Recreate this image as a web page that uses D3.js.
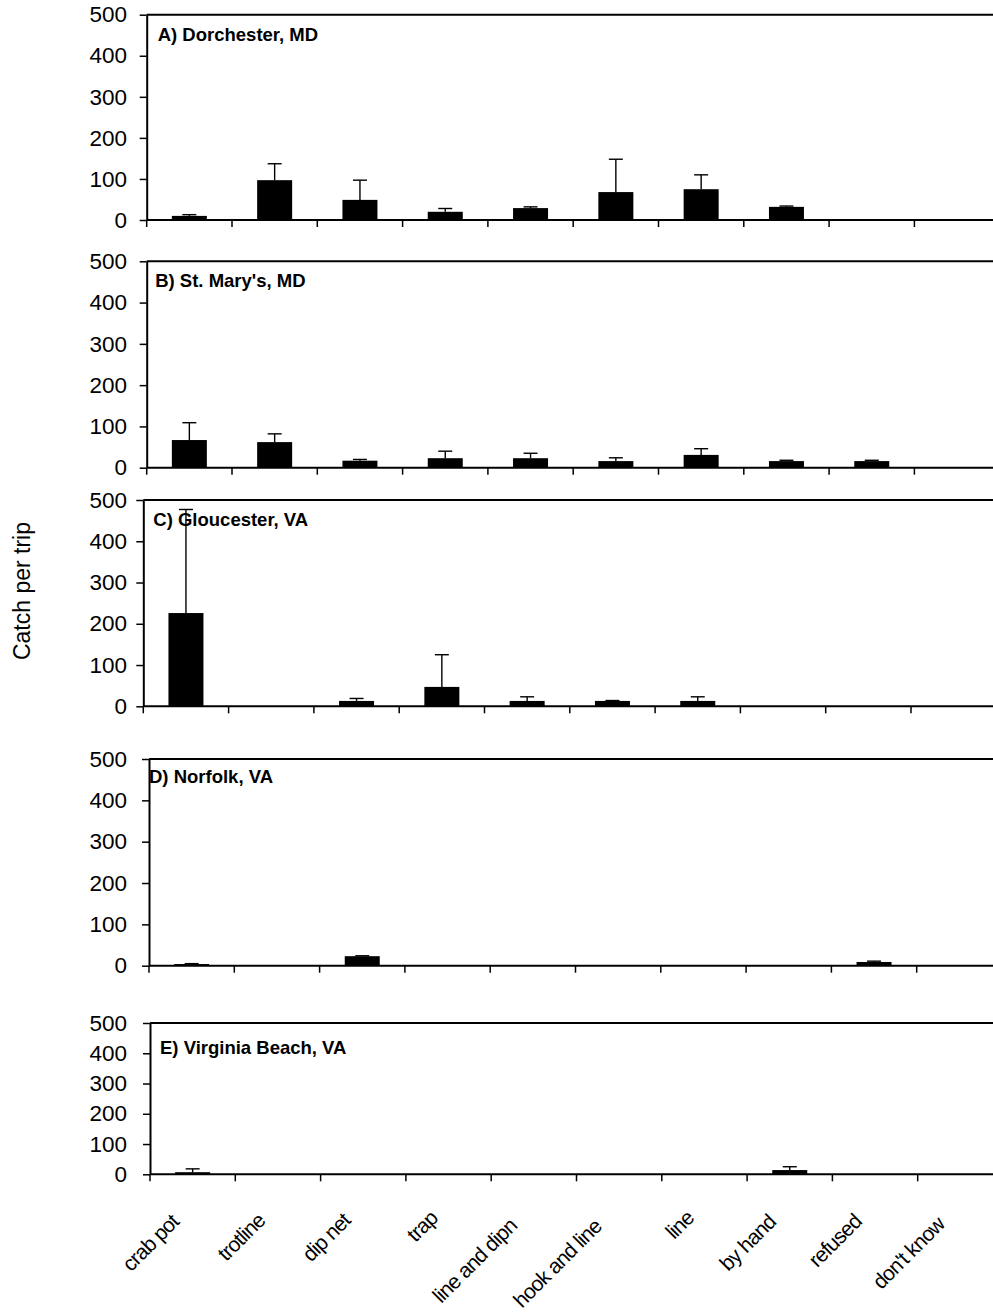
<!DOCTYPE html>
<html>
<head>
    <meta charset="UTF-8">
    <title>Catch per trip by gear</title>
    <script src="https://d3js.org/d3.v7.min.js"></script>
    <style>
        body {
            margin: 0;
            background: #fff;
            font-family: "Liberation Sans", Arial, sans-serif;
        }
        .tick text {
            font-family: "Liberation Sans", Arial, sans-serif;
        }
    </style>
</head>
<body>
    <svg id="chart"></svg>
    <script>
        // gear categories (x axis)
        const categories = ["crab pot", "trotline", "dip net", "trap", "line and dipn",
            "hook and line", "line", "by hand", "refused", "don't know"];

        const panelTitles = ["A) Dorchester, MD", "B) St. Mary's, MD", "C) Gloucester, VA",
            "D) Norfolk, VA", "E) Virginia Beach, VA"];

        const yTicks = [0, 100, 200, 300, 400, 500];

        // mean catch per trip and error (upper bar length)
        const dorchesterMean = [10, 97, 49, 20, 29, 68, 75, 32, 0, 0];
        const dorchesterErr  = [3, 40, 48, 8, 3, 80, 35, 2, 0, 0];

        const stMarysMean = [67, 62, 17, 23, 23, 16, 31, 16, 16, 0];
        const stMarysErr  = [42, 20, 3, 17, 12, 8, 15, 2, 2, 0];

        const gloucesterMean = [226, 0, 13, 47, 13, 13, 13, 0, 0, 0];
        const gloucesterErr  = [251, 0, 6, 78, 10, 1, 10, 0, 0, 0];

        const norfolkMean = [4, 0, 23, 0, 0, 0, 0, 0, 9, 0];
        const norfolkErr  = [1, 0, 1, 0, 0, 0, 0, 0, 2, 0];

        const vaBeachMean = [7, 0, 0, 0, 0, 0, 0, 14, 0, 0];
        const vaBeachErr  = [11, 0, 0, 0, 0, 0, 0, 11, 0, 0];

        const means = [dorchesterMean, stMarysMean, gloucesterMean, norfolkMean, vaBeachMean];
        const errs = [dorchesterErr, stMarysErr, gloucesterErr, norfolkErr, vaBeachErr];

        // panel placement on the page
        const layout = [
            { top: 14.7, bottom: 220, left: 146.7, tx: 11, ty: 26 },
            { top: 261.3, bottom: 467.7, left: 146.7, tx: 8.5, ty: 25.5 },
            { top: 500, bottom: 706.3, left: 143.3, tx: 10, ty: 26 },
            { top: 759, bottom: 965.7, left: 149, tx: 0, ty: 23.5 },
            { top: 1023, bottom: 1174.3, left: 150, tx: 10, ty: 31 }
        ];

        const width = 993;
        const height = 1314;
        const plotWidth = 853;
        const barWidth = 35;
        const capWidth = 14;
        const labelRight = 127;

        const svg = d3.select("#chart")
            .attr("width", width)
            .attr("height", height);

        layout.forEach((p, i) => {
            const g = svg.append("g");

            const x = d3.scaleBand()
                .domain(categories)
                .range([p.left, p.left + plotWidth]);

            const y = d3.scaleLinear()
                .domain([0, 500])
                .range([p.bottom, p.top]);

            const rows = categories.map((c, j) => ({ cat: c, v: means[i][j], e: errs[i][j] }));

            // bars
            g.selectAll("rect.bar")
                .data(rows.filter(d => d.v > 0))
                .join("rect")
                .attr("class", "bar")
                .attr("x", d => x(d.cat) + x.bandwidth() / 2 - barWidth / 2)
                .attr("y", d => y(d.v))
                .attr("width", barWidth)
                .attr("height", d => y(0) - y(d.v))
                .attr("fill", "#000");

            // error bars (upper only)
            const eb = g.selectAll("g.err")
                .data(rows.filter(d => d.v > 0 && d.e > 0))
                .join("g")
                .attr("class", "err");
            eb.append("line")
                .attr("x1", d => x(d.cat) + x.bandwidth() / 2)
                .attr("x2", d => x(d.cat) + x.bandwidth() / 2)
                .attr("y1", d => y(d.v))
                .attr("y2", d => y(d.v + d.e))
                .attr("stroke", "#000")
                .attr("stroke-width", 1.4);
            eb.append("line")
                .attr("x1", d => x(d.cat) + x.bandwidth() / 2 - capWidth / 2)
                .attr("x2", d => x(d.cat) + x.bandwidth() / 2 + capWidth / 2)
                .attr("y1", d => y(d.v + d.e))
                .attr("y2", d => y(d.v + d.e))
                .attr("stroke", "#000")
                .attr("stroke-width", 1.4);

            // top frame line
            g.append("line")
                .attr("x1", p.left).attr("x2", p.left + plotWidth)
                .attr("y1", p.top).attr("y2", p.top)
                .attr("stroke", "#000").attr("stroke-width", 2);

            // bottom axis with ticks between categories
            g.append("line")
                .attr("x1", p.left).attr("x2", p.left + plotWidth)
                .attr("y1", p.bottom).attr("y2", p.bottom)
                .attr("stroke", "#000").attr("stroke-width", 2);
            g.selectAll("line.xtick")
                .data(categories)
                .join("line")
                .attr("class", "xtick")
                .attr("x1", d => x(d)).attr("x2", d => x(d))
                .attr("y1", p.bottom).attr("y2", p.bottom + 7)
                .attr("stroke", "#000").attr("stroke-width", 1.5);

            // left axis
            const yAxis = g.append("g")
                .attr("transform", `translate(${p.left},0)`)
                .call(d3.axisLeft(y)
                    .tickValues(yTicks)
                    .tickSize(7)
                    .tickSizeOuter(0)
                    .tickPadding(p.left - labelRight - 7));
            yAxis.select(".domain").attr("stroke-width", 2);
            yAxis.selectAll(".tick line").attr("stroke-width", 1.5);
            yAxis.selectAll(".tick text")
                .attr("font-size", 22.5)
                .attr("fill", "#000");

            // panel title
            g.append("text")
                .attr("x", p.left + p.tx)
                .attr("y", p.top + p.ty)
                .attr("font-size", 18.5)
                .attr("font-weight", "bold")
                .text(panelTitles[i]);

            // category labels under the last panel
            if (i === layout.length - 1) {
                const labels = g.selectAll("text.xlab")
                    .data(categories)
                    .join("text")
                    .attr("class", "xlab")
                    .attr("text-anchor", "end")
                    .attr("font-size", 21)
                    .attr("letter-spacing", -0.8)
                    .text(d => d);
                // longer labels sit a little further down-left, as in the original
                labels.attr("transform", function (d) {
                    const len = this.getComputedTextLength();
                    const cx = x(d) + x.bandwidth() / 2 - 7 - 0.08 * len;
                    const cy = p.bottom + 42 + 0.1 * len;
                    return `translate(${cx},${cy}) rotate(-45)`;
                });
            }
        });

        // y axis title
        svg.append("text")
            .attr("transform", "translate(30,591) rotate(-90)")
            .attr("text-anchor", "middle")
            .attr("font-size", 23)
            .text("Catch per trip");
    </script>
</body>
</html>
